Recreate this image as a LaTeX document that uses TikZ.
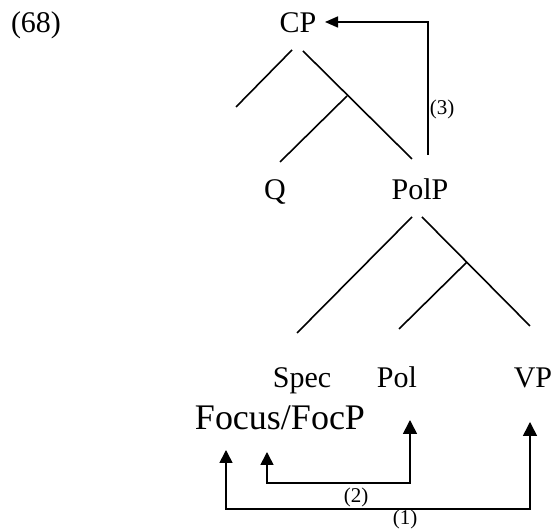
\documentclass[tikz,border=0pt]{standalone}
\usepackage{fontspec}
\setmainfont{Liberation Serif}
\usetikzlibrary{arrows.meta, calc}
\tikzset{
  branch/.style    = {line width=1.6pt, black},
  movement/.style  = {line width=1.6pt, black},
  uptip/.style     = {-{Triangle[length=13pt, width=11pt]}},
  bothtip/.style   = {{Triangle[length=13pt, width=13pt]}-{Triangle[length=14pt, width=14pt]}},
  cat/.style       = {font=\fontsize{30}{36}\selectfont, anchor=base, inner sep=0pt},
  bigcat/.style    = {font=\fontsize{36}{42}\selectfont, anchor=base, inner sep=0pt},
  steplbl/.style   = {font=\fontsize{21}{25}\selectfont, anchor=base, inner sep=0pt},
}

\begin{document}
\begin{tikzpicture}[x=1pt, y=1pt]
  \useasboundingbox (0,0) rectangle (555,529);
  \node[cat] (exnum) at (36,496) {(68)};
  % category labels
  \node[cat] (CP)    at (298,496) {CP};
  \node[cat] (Q)     at (275,329) {Q};
  \node[cat] (PolP)  at (420,329) {PolP};
  \node[cat] (Spec)  at (302,141) {Spec};
  \node[cat] (Pol)   at (397,141) {Pol};
  \node[cat] (VP)    at (533,141) {VP};
  \node[bigcat] (Focus) at (280,99) {Focus/FocP};
  % branches of CP
  \draw[branch] (292,479) -- (236,422);
  \draw[branch] (303,478) -- (412,370);
  \draw[branch] (347,433) -- (280,367);
  % branches of PolP
  \draw[branch] (412,312) -- (297,196);
  \draw[branch] (422,312) -- (530,203);
  \draw[branch] (467,267) -- (399,200);
  % movement steps
  \draw[movement, uptip] ($(PolP.base)+(8,45)$) |- ($(CP.base)+(27,11)$);
  \node[steplbl] (step3) at (442,414) {(3)};
  \coordinate (fromFoc2) at ($(Focus.base)+(-13,-22)$);
  \coordinate (toPol) at ($(Pol.base)+(13,-32)$);
  \draw[movement, bothtip] (fromFoc2) |- ($(toPol)+(0,-63)$) -- (toPol);
  \node[steplbl] (step2) at (356,26) {(2)};
  \coordinate (fromFoc1) at ($(Focus.base)+(-54,-20)$);
  \coordinate (toVP) at ($(VP.base)+(-3,-34)$);
  \draw[movement, bothtip] (fromFoc1) |- ($(toVP)+(0,-87)$) -- (toVP);
  \node[steplbl] (step1) at (405,4) {(1)};
\end{tikzpicture}
\end{document}
